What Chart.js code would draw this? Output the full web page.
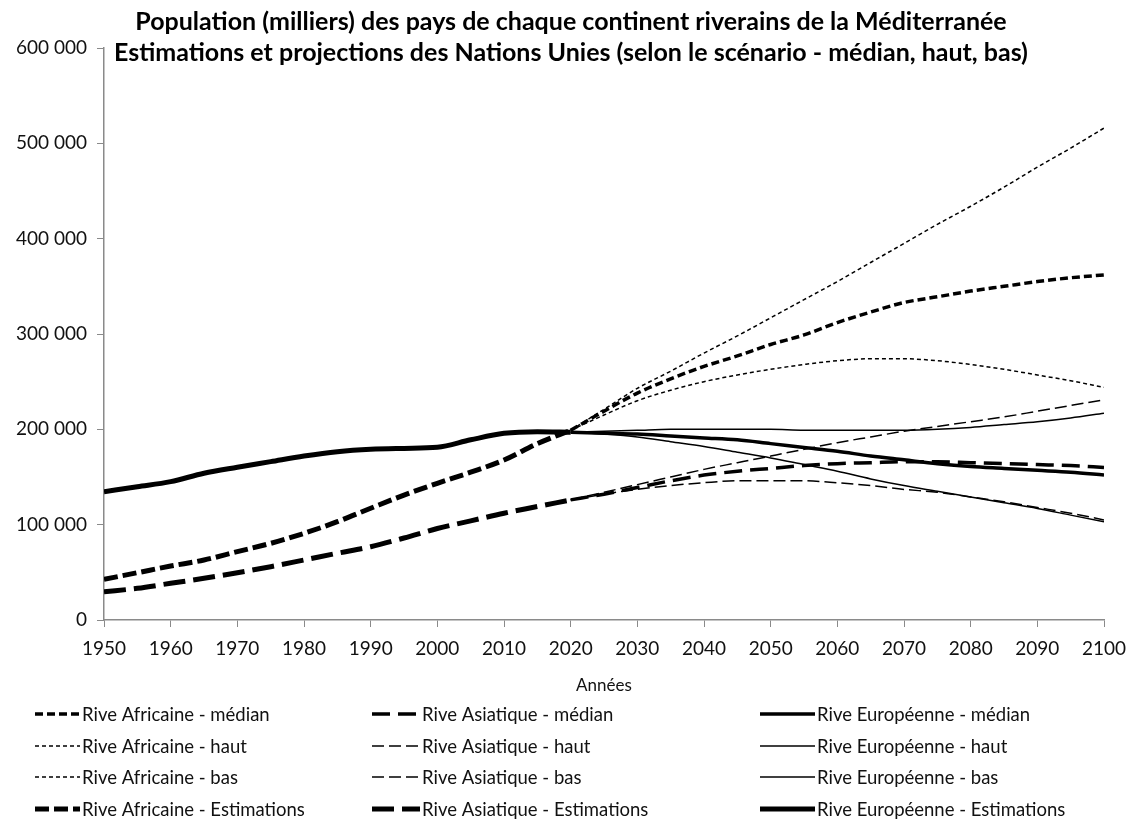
<!DOCTYPE html>
<html>
<head>
<meta charset="utf-8">
<script src="https://cdn.jsdelivr.net/npm/chart.js@4"></script>
<style>
  html, body { margin: 0; padding: 0; background: #fff; }
  #wrap { width: 1127px; height: 831px; }
</style>
</head>
<body>
<div id="wrap"><canvas id="myChart" width="1127" height="831"></canvas></div>
<script>
const fontFamily = "Lato, 'Open Sans', sans-serif";
const axisColor = "#8a8a8a";
const textColor = "#111";

// years
const estYears = [1950, 1955, 1960, 1965, 1970, 1975, 1980, 1985, 1990, 1995, 2000, 2005, 2010, 2015, 2020];
const projYears = [2020, 2025, 2030, 2035, 2040, 2045, 2050, 2055, 2060, 2065, 2070, 2075, 2080, 2085, 2090, 2095, 2100];

// estimations (milliers)
const africaEst = [42700, 49600, 56600, 62900, 71700, 80400, 90900, 103100, 117200, 131000, 143400, 155000, 167800, 185000, 199000];
const asiaEst = [29700, 33200, 38500, 43700, 49600, 55900, 62900, 70000, 76900, 86000, 96000, 104000, 112000, 119000, 126000];
const europeEst = [134600, 139800, 145100, 153900, 160200, 166100, 172000, 176600, 179100, 180000, 181100, 189000, 195800, 197500, 197000];

// projections (milliers)
const africaMedian = [199000, 219000, 238000, 253000, 266000, 277000, 289000, 299000, 312000, 323000, 333000, 339000, 345000, 350000, 355000, 359000, 362000];
const africaHigh = [199000, 221000, 243000, 261000, 280000, 298000, 317000, 336000, 355000, 375000, 395000, 415000, 434000, 454000, 475000, 495000, 516000];
const africaLow = [199000, 215000, 230000, 241000, 250000, 257000, 263000, 268000, 272000, 274000, 274000, 272000, 268000, 263000, 257000, 251000, 244000];

const asiaMedian = [126000, 132000, 139000, 146000, 152000, 156000, 159000, 162000, 164000, 165000, 166000, 166000, 165000, 164000, 163000, 162000, 160000];
const asiaHigh = [126000, 134000, 142000, 150000, 158000, 165000, 172000, 179000, 186000, 192000, 198000, 203000, 208000, 213000, 219000, 225000, 231000];
const asiaLow = [126000, 132000, 137000, 141000, 144000, 146000, 146000, 146000, 144000, 141000, 137000, 134000, 129000, 124000, 118000, 112000, 105000];

const europeMedian = [197000, 196000, 195000, 193000, 191000, 189000, 185000, 181000, 177000, 172000, 168000, 164000, 161000, 159000, 157000, 155000, 152000];
const europeHigh = [197000, 198000, 199000, 200000, 200000, 200000, 200000, 199000, 199000, 199000, 199000, 200000, 202000, 205000, 208000, 212000, 217000];
const europeLow = [197000, 195000, 192000, 187000, 182000, 176000, 170000, 163000, 156000, 148000, 141000, 135000, 129000, 123000, 117000, 110000, 103000];

const xTicks = [1950, 1960, 1970, 1980, 1990, 2000, 2010, 2020, 2030, 2040, 2050, 2060, 2070, 2080, 2090, 2100];

function pts(years, values) {
    return years.map((yr, i) => ({ x: yr, y: values[i] }));
}

function series(label, years, values, width, dash) {
    return {
        label: label,
        data: pts(years, values),
        borderColor: "#000",
        backgroundColor: "#000",
        borderWidth: width,
        borderDash: dash,
        borderCapStyle: "butt",
        pointRadius: 0,
        fill: false,
        cubicInterpolationMode: "monotone"
    };
}

// order: column by column (Afrique, Asie, Europe), 4 rows each
const datasets = [
    series("Rive Africaine - médian", projYears, africaMedian, 3.5, [8, 4]),
    series("Rive Africaine - haut", projYears, africaHigh, 1.5, [4, 3]),
    series("Rive Africaine - bas", projYears, africaLow, 1.5, [4, 3]),
    series("Rive Africaine - Estimations", estYears, africaEst, 5, [14, 5]),
    series("Rive Asiatique - médian", projYears, asiaMedian, 3.5, [18, 8]),
    series("Rive Asiatique - haut", projYears, asiaHigh, 1.5, [12, 5]),
    series("Rive Asiatique - bas", projYears, asiaLow, 1.5, [12, 5]),
    series("Rive Asiatique - Estimations", estYears, asiaEst, 5, [22, 8]),
    series("Rive Européenne - médian", projYears, europeMedian, 3.5, []),
    series("Rive Européenne - haut", projYears, europeHigh, 1.5, []),
    series("Rive Européenne - bas", projYears, europeLow, 1.5, []),
    series("Rive Européenne - Estimations", estYears, europeEst, 5, [])
];

const titleLines = [
    "Population (milliers) des pays de chaque continent riverains de la Méditerranée",
    "Estimations et projections des Nations Unies (selon le scénario - médian, haut, bas)"
];

// title + legend in a 3x4 grid
const extras = {
    id: "extras",
    afterDraw(chart) {
        const ctx = chart.ctx;
        ctx.save();
        ctx.fillStyle = "#000";
        ctx.font = "bold 25px " + fontFamily;
        ctx.textAlign = "center";
        ctx.textBaseline = "middle";
        ctx.fillText(titleLines[0], 571, 22);
        ctx.fillText(titleLines[1], 571, 53);

        const colSample = [35, 372, 760];
        const colText = [82, 422, 817];
        const rowY = [714, 746, 777, 809];
        ctx.font = "18.5px " + fontFamily;
        ctx.textAlign = "left";
        chart.data.datasets.forEach((ds, i) => {
            const col = Math.floor(i / 4);
            const row = i % 4;
            const y = rowY[row];
            ctx.strokeStyle = ds.borderColor;
            ctx.lineWidth = ds.borderWidth;
            ctx.lineCap = "butt";
            ctx.setLineDash(ds.borderDash);
            ctx.beginPath();
            ctx.moveTo(colSample[col], y);
            ctx.lineTo(colText[col] - 2, y);
            ctx.stroke();
            ctx.setLineDash([]);
            ctx.fillStyle = textColor;
            ctx.fillText(ds.label, colText[col], y + 1);
        });
        ctx.restore();
    }
};

const config = {
    type: "line",
    data: { datasets: datasets },
    options: {
        responsive: false,
        animation: false,
        layout: {
            padding: { top: 48, right: 23, bottom: 131, left: 0 }
        },
        plugins: {
            legend: { display: false },
            title: { display: false },
            tooltip: { enabled: false }
        },
        scales: {
            x: {
                type: "linear",
                min: 1950,
                max: 2100,
                afterBuildTicks: (scale) => {
                    scale.ticks = xTicks.map(v => ({ value: v }));
                },
                afterFit: (scale) => {
                    scale.height = 80;
                    scale.paddingLeft = 0;
                    scale.paddingRight = 0;
                },
                ticks: {
                    color: textColor,
                    font: { family: fontFamily, size: 19 },
                    maxRotation: 0,
                    padding: 10,
                    callback: (v) => String(v)
                },
                grid: {
                    drawOnChartArea: false,
                    color: axisColor,
                    tickLength: 7
                },
                border: { color: axisColor, width: 1.5 },
                title: {
                    display: true,
                    text: "Années",
                    color: textColor,
                    font: { family: fontFamily, size: 17 },
                    padding: { top: 4 }
                }
            },
            y: {
                min: 0,
                max: 600000,
                afterFit: (scale) => {
                    scale.width = 104;
                    scale.paddingTop = 0;
                    scale.paddingBottom = 0;
                },
                ticks: {
                    stepSize: 100000,
                    color: textColor,
                    font: { family: fontFamily, size: 19 },
                    padding: 10,
                    callback: (v) => String(v).replace(/\B(?=(\d{3})+(?!\d))/g, " ")
                },
                grid: {
                    drawOnChartArea: false,
                    color: axisColor,
                    tickLength: 7
                },
                border: { color: axisColor, width: 1.5 }
            }
        }
    },
    plugins: [extras]
};

const myChart = new Chart("myChart", config);
</script>
</body>
</html>
